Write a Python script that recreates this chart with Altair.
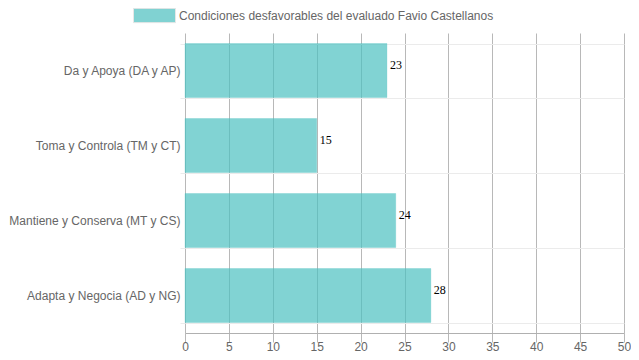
import altair as alt
import pandas as pd

categories = [
    "Da y Apoya (DA y AP)",
    "Toma y Controla (TM y CT)",
    "Mantiene y Conserva (MT y CS)",
    "Adapta y Negocia (AD y NG)",
]
values = [23, 15, 24, 28]
series_name = "Condiciones desfavorables del evaluado Favio Castellanos"
x_ticks = [0, 5, 10, 15, 20, 25, 30, 35, 40, 45, 50]

df = pd.DataFrame({"cat": categories, "val": values, "serie": [series_name] * len(values)})

base = alt.Chart(df)

bars = base.mark_bar(
    fillOpacity=0.7, stroke="#4bc0c0", strokeOpacity=0.25, strokeWidth=1
).encode(
    y=alt.Y(
        "cat:N",
        sort=categories,
        title=None,
        scale=alt.Scale(paddingInner=0.28, paddingOuter=0.14),
        axis=alt.Axis(
            tickBand="extent",
            grid=True,
            gridColor="#ebebeb",
            gridWidth=1,
            tickColor="#ebebeb",
            tickSize=5,
            labelPadding=0,
            domain=False,
            labelFont="Liberation Sans",
            labelFontSize=12,
            labelColor="#666666",
            labelLimit=300,
        ),
    ),
    x=alt.X(
        "val:Q",
        title=None,
        scale=alt.Scale(domain=[0, 50], nice=False),
        axis=alt.Axis(
            values=x_ticks,
            grid=True,
            gridColor="#b8b8b8",
            gridWidth=1,
            tickColor="#b8b8b8",
            tickSize=9,
            labelPadding=8,
            labelBaseline="alphabetic",
            domainColor="#b0b0b0",
            labelFont="Liberation Sans",
            labelFontSize=12,
            labelColor="#666666",
            labelFlush=False,
        ),
    ),
    color=alt.Color(
        "serie:N",
        scale=alt.Scale(range=["#4bc0c0"]),
        legend=alt.Legend(
            title=None,
            orient="none",
            legendX=-52,
            legendY=-39,
            padding=0,
            symbolType="M-1,-0.34L1,-0.34L1,0.34L-1,0.34Z",
            symbolSize=1764,
            symbolOpacity=0.7,
            symbolStrokeColor="#dddddd",
            symbolStrokeWidth=1,
            labelFont="Liberation Sans",
            labelFontSize=12,
            labelColor="#666666",
            labelOffset=3,
            labelLimit=500,
        ),
    ),
)

labels = base.mark_text(
    align="left", baseline="middle", dx=3, dy=-6,
    font="Liberation Serif", fontSize=12, color="#000000",
).encode(
    y=alt.Y("cat:N", sort=categories),
    x=alt.X("val:Q"),
    text=alt.Text("val:Q"),
)

chart = (bars + labels).properties(
    width=439,
    height=300,
    autosize=alt.AutoSizeParams(type="none"),
    padding={"left": 177, "top": 25, "right": 7, "bottom": 19},
).configure_view(stroke=None)

chart.save("out.html", embed_options={"renderer": "svg", "actions": False})
